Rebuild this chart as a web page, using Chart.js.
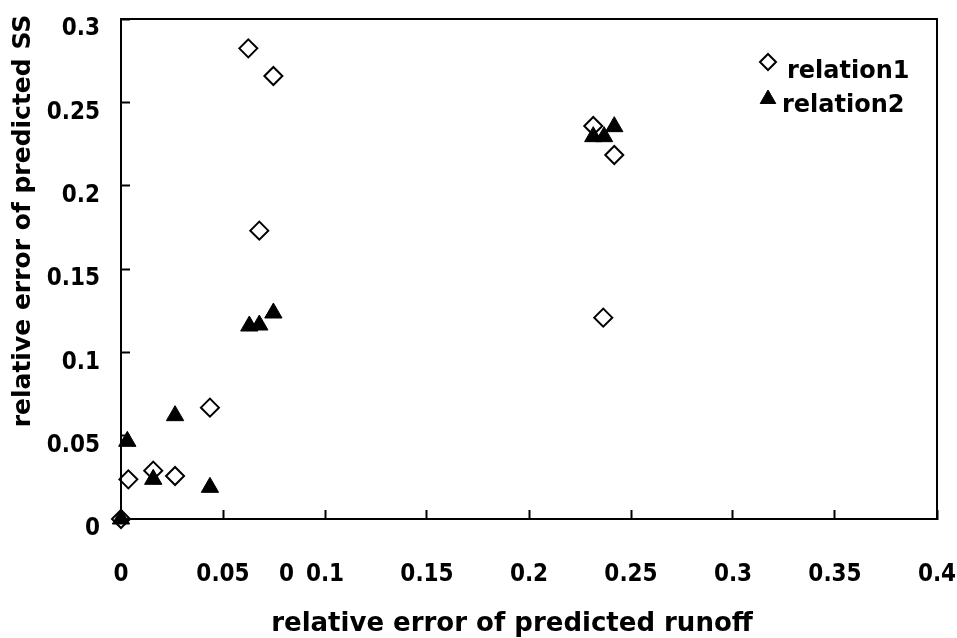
<!DOCTYPE html>
<html>
<head>
<meta charset="utf-8">
<script src="https://cdn.jsdelivr.net/npm/chart.js@4.4.1/dist/chart.umd.min.js"></script>
<style>
  html, body { margin: 0; padding: 0; background: #ffffff; }
  #wrap { width: 957px; height: 638px; position: relative; }
</style>
</head>
<body>
<div id="wrap"><canvas id="c" width="957" height="638"></canvas></div>
<script>
// ---- data ----
const seriesNames = ["relation1", "relation2"];
const relation1X = [0, 0.0036, 0.0158, 0.0265, 0.0436, 0.0624, 0.0678, 0.0747, 0.2315, 0.2364, 0.2418];
const relation1Y = [0, 0.0238, 0.0290, 0.0258, 0.0668, 0.2824, 0.1730, 0.2658, 0.2358, 0.1208, 0.2184];
const relation2X = [0, 0.0031, 0.0158, 0.0265, 0.0436, 0.0629, 0.0678, 0.0747, 0.2315, 0.2368, 0.2418];
const relation2Y = [0, 0.0466, 0.0238, 0.0620, 0.0190, 0.1158, 0.1164, 0.1236, 0.2294, 0.2294, 0.2354];
const xTickValues = [0, 0.05, 0.0811, 0.1, 0.15, 0.2, 0.25, 0.3, 0.35, 0.4];
const xTickLabels = ["0", "0.05", "0", "0.1", "0.15", "0.2", "0.25", "0.3", "0.35", "0.4"];
const xTickMarked = [true, true, false, true, true, true, true, true, true, true];
const yTickValues = [0, 0.05, 0.1, 0.15, 0.2, 0.25, 0.3];
const yTickLabels = ["0", "0.05", "0.1", "0.15", "0.2", "0.25", "0.3"];
const xTitle = "relative error of predicted runoff";
const yTitle = "relative error of predicted SS";

// ---- styling ----
const FAMILY = '"DejaVu Sans Condensed", "DejaVu Sans", sans-serif';
const FONT = { family: FAMILY, weight: 'bold', size: 24 };
const WIDE = '"DejaVu Sans", sans-serif';

function pts(xs, ys) { return xs.map((x, i) => ({ x: x, y: ys[i] })); }

const framePlugin = {
  id: 'frame',
  afterDatasetsDraw(chart) {
    const { ctx, chartArea: a } = chart;
    ctx.save();
    ctx.strokeStyle = '#000';
    ctx.lineWidth = 2;
    ctx.strokeRect(a.left, a.top, a.right - a.left, a.bottom - a.top);
    ctx.restore();
  },
  afterDraw(chart) {
    const { ctx, chartArea: a } = chart;
    ctx.save();
    ctx.fillStyle = '#000';
    // x title
    ctx.font = 'bold 26px ' + WIDE;
    ctx.textAlign = 'center';
    ctx.textBaseline = 'alphabetic';
    ctx.fillText(xTitle, 512, 631);
    // y title
    ctx.save();
    ctx.font = 'bold 25px ' + WIDE;
    ctx.translate(23, 221);
    ctx.rotate(-Math.PI / 2);
    ctx.textAlign = 'center';
    ctx.textBaseline = 'middle';
    ctx.fillText(yTitle, 0, 0);
    ctx.restore();
    // legend (inside plot, top right)
    ctx.font = 'bold 24px ' + WIDE;
    const ds = chart.data.datasets;
    const lx = a.right - 169;
    const rows = [
      { y: 62, ty: 72, tx: lx + 19 },
      { y: 99, ty: 106, tx: lx + 14 }
    ];
    ds.forEach((d, i) => {
      const r = rows[i];
      ctx.save();
      ctx.lineWidth = d.borderWidth;
      ctx.strokeStyle = d.borderColor;
      ctx.fillStyle = d.backgroundColor;
      Chart.helpers.drawPoint(ctx, { pointStyle: d.pointStyle, radius: d.pointRadius - 1, borderWidth: d.borderWidth, rotation: 0 }, lx, r.y);
      ctx.restore();
      ctx.fillStyle = '#000';
      ctx.textAlign = 'left';
      ctx.textBaseline = 'middle';
      ctx.fillText(d.label, r.tx, r.ty);
    });
    ctx.restore();
  }
};

new Chart(document.getElementById('c'), {
  type: 'scatter',
  data: {
    datasets: [
      {
        label: seriesNames[0],
        data: pts(relation1X, relation1Y),
        pointStyle: 'rectRot',
        pointRadius: 9,
        pointHoverRadius: 9,
        borderWidth: 2,
        borderColor: '#000',
        backgroundColor: '#fff',
        clip: false,
        order: 1
      },
      {
        label: seriesNames[1],
        data: pts(relation2X, relation2Y),
        pointStyle: 'triangle',
        pointRadius: 10,
        pointHoverRadius: 10,
        borderWidth: 1,
        borderColor: '#000',
        backgroundColor: '#000',
        clip: false,
        order: 0
      }
    ]
  },
  options: {
    responsive: false,
    animation: false,
    devicePixelRatio: 1,
    layout: { autoPadding: false, padding: { left: 0, top: 19, right: 20, bottom: 0 } },
    plugins: {
      legend: { display: false },
      tooltip: { enabled: false },
      title: { display: false }
    },
    scales: {
      x: {
        type: 'linear',
        min: 0, max: 0.4,
        afterFit(scale) { scale.height = 119; scale.paddingLeft = 0; scale.paddingRight = 0; },
        afterBuildTicks(scale) { scale.ticks = xTickValues.map(v => ({ value: v })); },
        border: { display: true, color: '#000', width: 2 },
        grid: {
          drawOnChartArea: false, drawTicks: true, tickLength: -9, tickWidth: 2,
          color: (c) => (c.index !== undefined && xTickMarked[c.index] === false) ? 'rgba(0,0,0,0)' : '#000'
        },
        ticks: {
          autoSkip: false, maxRotation: 0, minRotation: 0,
          padding: 50, color: '#000', font: FONT,
          callback: (v, i) => xTickLabels[i]
        },
        title: { display: false }
      },
      y: {
        type: 'linear',
        min: 0, max: 0.3,
        afterFit(scale) { scale.width = 121; scale.paddingTop = 0; scale.paddingBottom = 0; },
        afterBuildTicks(scale) { scale.ticks = yTickValues.map(v => ({ value: v })); },
        border: { display: true, color: '#000', width: 2 },
        grid: { drawOnChartArea: false, drawTicks: true, tickLength: -9, tickWidth: 2, color: '#000' },
        ticks: {
          autoSkip: false, padding: 30, labelOffset: 10, color: '#000', font: FONT,
          callback: (v, i) => yTickLabels[i]
        },
        title: { display: false }
      }
    }
  },
  plugins: [framePlugin]
});
</script>
</body>
</html>
